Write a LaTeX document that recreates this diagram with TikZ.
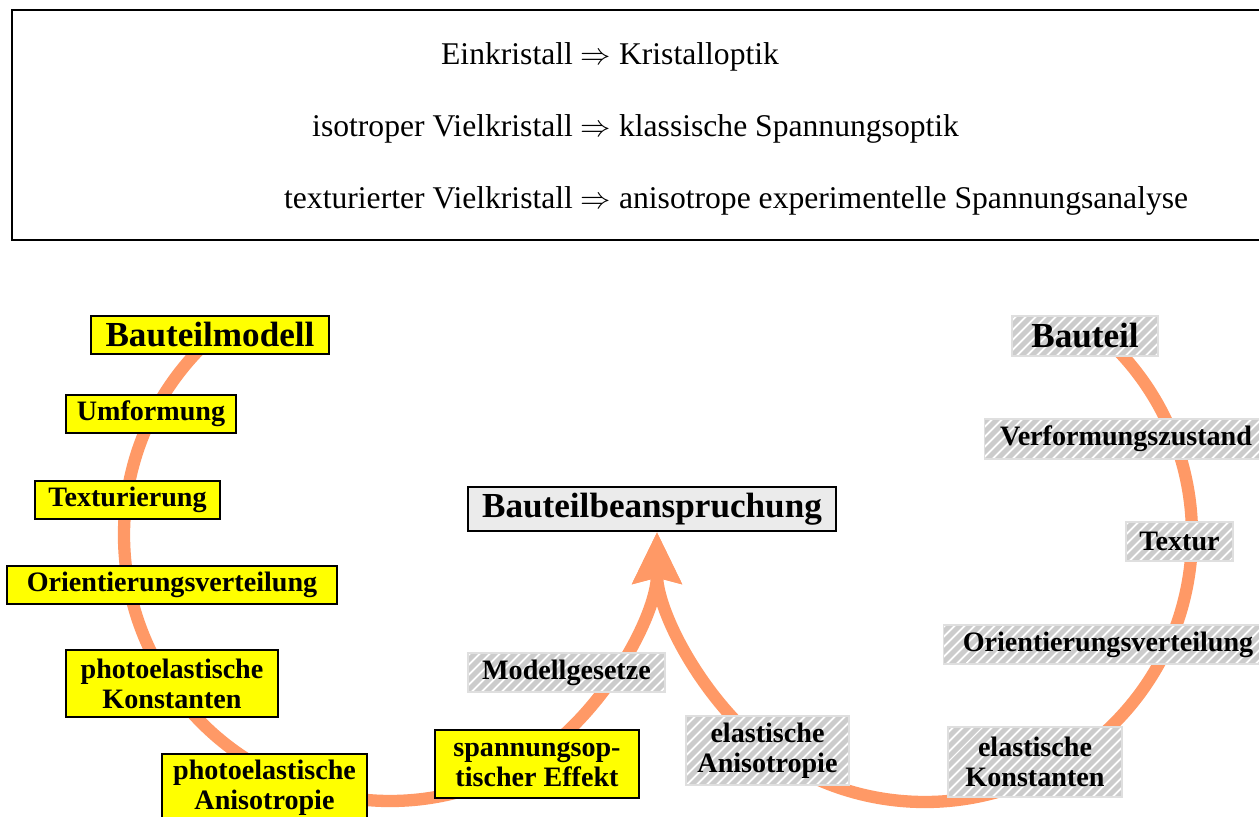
\documentclass[tikz,border=0pt]{standalone}
\usepackage{fontspec}
\setmainfont{Liberation Serif}
\usetikzlibrary{arrows.meta,patterns.meta,calc}
\definecolor{arcc}{HTML}{FF9966}
\definecolor{ybox}{HTML}{FFFF00}
\definecolor{hgray}{HTML}{CCCCCC}
\definecolor{lgray}{HTML}{EBEBEB}
\pgfdeclarelayer{bg}
\pgfsetlayers{bg,main}
\tikzset{
 lbl/.style={inner sep=0pt, align=center, font=\fontsize{16}{17}\selectfont\bfseries},
 yb/.style={lbl, fill=ybox, draw=black, line width=1.2pt},
 hb/.style={lbl, preaction={fill=hgray}, pattern={Lines[angle=45,distance=4pt,line width=1.1pt]}, pattern color=white, draw=gray!25, line width=0.6pt},
 big/.style={font=\fontsize{20}{22}\selectfont\bfseries},
 flow/.style={draw=arcc, line width=7pt, -{Stealth[length=29pt,width=27pt,inset=3pt]}},
 toptext/.style={anchor=base, inner sep=0pt, font=\fontsize{18}{20}\selectfont},
}
\begin{document}
\begin{tikzpicture}[x=0.02cm,y=0.02cm]
\useasboundingbox (0,0) rectangle (1259,816);
\draw[line width=1.6pt] (12,806) rectangle (1290,576);
\node[toptext] (t1) at (596,751) {\llap{Einkristall\ }$\Rightarrow$\rlap{\ Kristalloptik}};
\node[toptext] (t2) at (596,679) {\llap{isotroper Vielkristall\ }$\Rightarrow$\rlap{\ klassische Spannungsoptik}};
\node[toptext] (t3) at (596,607) {\llap{texturierter Vielkristall\ }$\Rightarrow$\rlap{\ anisotrope experimentelle Spannungsanalyse}};

% left column
\node[yb,big,minimum width=4.76cm,minimum height=0.76cm] (bm) at (210,481) {Bauteilmodell};
\node[yb,minimum width=3.4cm,minimum height=0.76cm] (um) at (151,402) {Umformung};
\node[yb,minimum width=3.7cm,minimum height=0.76cm] (tx) at (127.5,316) {Texturierung};
\node[yb,minimum width=6.6cm,minimum height=0.76cm] (ovl) at (172,231) {Orientierungsverteilung};
\node[yb,minimum width=4.24cm,minimum height=1.34cm] (pk) at (172,132.5) {photoelastische\\Konstanten};
\node[yb,minimum width=4.1cm,minimum height=1.34cm] (pa) at (264.5,28.5) {photoelastische\\Anisotropie};
\node[yb,minimum width=4.08cm,minimum height=1.36cm] (se) at (537,52) {spannungsop-\\tischer Effekt};
\node[hb,minimum width=3.94cm,minimum height=0.78cm] (mg) at (566.5,143.5) {Modellgesetze};

% centre
\node[lbl,big,fill=lgray,draw=black,line width=1.2pt,minimum width=7.36cm,minimum height=0.88cm] (bb) at (652,307) {Bauteilbeanspruchung};
\node[hb,minimum width=3.26cm,minimum height=1.38cm] (ea) at (767.5,65.5) {elastische\\Anisotropie};

% right column
\node[hb,big,minimum width=2.92cm,minimum height=0.8cm] (bt) at (1085,480) {Bauteil};
\node[hb,minimum width=5.68cm,minimum height=0.8cm] (vz) at (1126,377) {Verformungszustand};
\node[hb,minimum width=2.14cm,minimum height=0.78cm] (tu) at (1179.5,274.5) {Textur};
\node[hb,minimum width=6.6cm,minimum height=0.78cm] (ovr) at (1108,171.5) {Orientierungsverteilung};
\node[hb,minimum width=3.48cm,minimum height=1.4cm] (ek) at (1035,54) {elastische\\Konstanten};

\begin{pgfonlayer}{bg}
\fill[white] (0,0) rectangle (1259,816);
\coordinate (lc) at (390,281);
\coordinate (rc) at (925,281);
\coordinate (tip) at (657,284);
\draw[flow] ($(lc)+(135:266)$) arc[start angle=135,end angle=300,radius=266]
  .. controls (601,96) and (657,200) .. (tip);
\draw[flow] ($(rc)+(48:267)$) arc[start angle=48,end angle=-120,radius=267]
  .. controls (713.5,95) and (657,200) .. (tip);
\end{pgfonlayer}
\end{tikzpicture}
\end{document}
